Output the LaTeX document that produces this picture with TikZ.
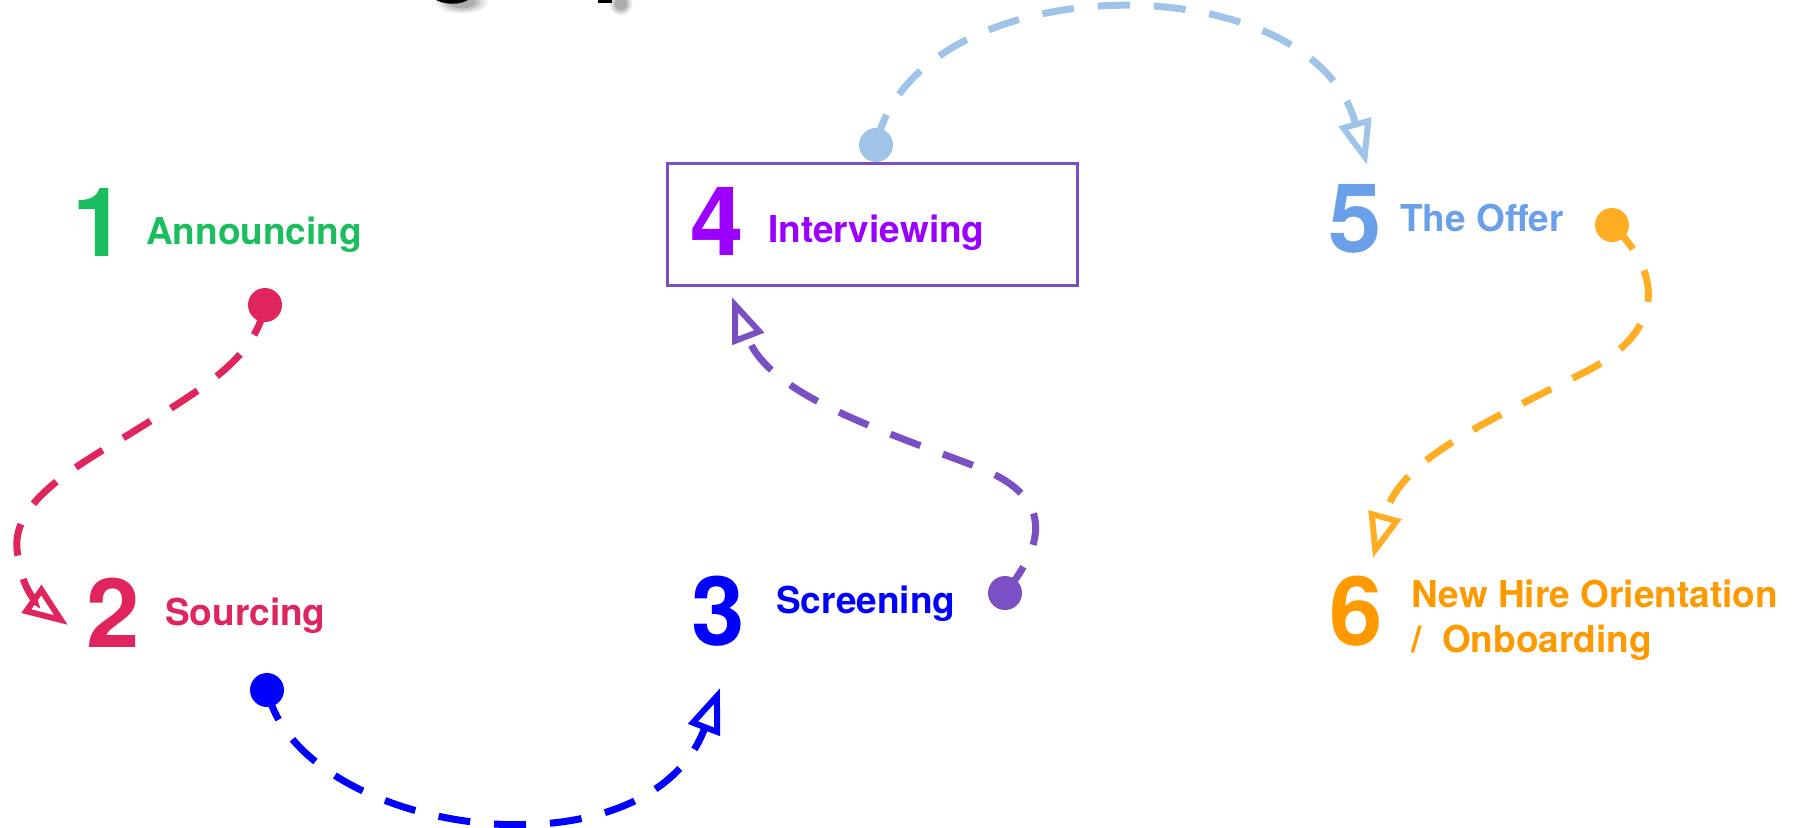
\documentclass[tikz,border=0pt]{standalone}
\usepackage{fontspec}
\setmainfont{TeX Gyre Heros}
\usetikzlibrary{arrows.meta}
\definecolor{cgreen}{RGB}{27,190,95}
\definecolor{cpink}{RGB}{224,36,94}
\definecolor{cblue}{RGB}{0,0,255}
\definecolor{cviolet}{RGB}{155,0,255}
\definecolor{cpurple}{RGB}{123,79,196}
\definecolor{clight}{RGB}{160,196,232}
\definecolor{coffer}{RGB}{106,159,234}
\definecolor{corange}{RGB}{255,173,34}
\definecolor{corangetxt}{RGB}{255,153,0}
\tikzset{
  num/.style={anchor=base west, inner sep=0pt, font=\fontsize{96}{96}\selectfont\bfseries},
  lab/.style={anchor=base west, inner sep=0pt, font=\fontsize{37}{45}\selectfont\bfseries},
  dot/.style={circle, fill, inner sep=0pt, minimum size=34pt},
  conn/.style={line width=7pt, dash pattern=on 32pt off 24pt,
    -{Triangle[open, length=45pt, width=33pt, line width=6pt]}},
}
\begin{document}
\begin{tikzpicture}[x=1pt,y=-1pt]
\useasboundingbox (0,0) rectangle (1803,827);
% cut-off title fragments with shadow
\begin{scope}
\clip (0,0) rectangle (1803,827);
\foreach \r/\o in {26/0.06,22/0.08,18/0.1,14/0.12}{
  \fill[black,opacity=\o] (462,2) ellipse ({\r pt} and {0.45*\r pt});
  \fill[black,opacity=\o] (621,4) ellipse ({0.45*\r pt} and {0.45*\r pt});
}
\fill[black] (436,0) .. controls (445,5) and (460,5) .. (468,0) -- cycle;
\fill[black] (598,0) rectangle (612,3);
\end{scope}

% steps
\node[num, text=cgreen] (n1) at (72,256) {1};
\node[lab, text=cgreen] (l1) at (146,244) {Announcing};
\node[num, text=cpink] (n2) at (86,647) {2};
\node[lab, text=cpink] (l2) at (165,625) {Sourcing};
\node[num, text=cblue] (n3) at (691,645) {3};
\node[lab, text=cblue] (l3) at (776,613) {Screening};
\node[draw=cpurple, line width=3pt, minimum width=410pt, minimum height=122pt, inner sep=0pt] (box) at (872.5,224.5) {};
\node[num, text=cviolet] (n4) at (690,255) {4};
\node[lab, text=cviolet] (l4) at (768,242) {Interviewing};
\node[num, text=coffer] (n5) at (1328,252) {5};
\node[lab, text=coffer] (l5) at (1400,231) {The Offer};
\node[num, text=corangetxt] (n6) at (1329,645) {6};
\node[lab, text=corangetxt] (l6a) at (1411,607) {New Hire Orientation};
\node[lab, text=corangetxt] (l6b) at (1411,652) {/\ \ Onboarding};

% dots and arrow ends
\node[dot, fill=cpink] (d1) at (265,305) {};
\coordinate (t1) at (68,625);
\node[dot, fill=cblue] (d2) at (267,690) {};
\coordinate (t2) at (720,688);
\node[dot, fill=cpurple] (d3) at (1005,593) {};
\coordinate (t3) at (732,297);
\node[dot, fill=clight] (d4) at (876,145) {};
\coordinate (t4) at (1367,165);
\node[dot, fill=corange] (d5) at (1612,225) {};
\coordinate (t5) at (1373,558);

% connectors
\draw[conn, cpink] (d1.center) .. controls (255,360) and (200,390) .. (128,435)
   .. controls (60,475) and (5,510) .. (19,560)
   .. controls (22,590) and (40,605) .. (t1);
\draw[conn, cblue] (d2.center) .. controls (300,835) and (645,885) .. (t2);
\draw[conn, cpurple] (d3.center) .. controls (1040,550) and (1060,500) .. (980,468)
   .. controls (880,430) and (770,395) .. (t3);
\draw[conn, clight] (d4.center) .. controls (915,-35) and (1310,-40) .. (t4);
\draw[conn, corange] (d5.center) .. controls (1660,270) and (1670,330) .. (1583,373)
   .. controls (1480,425) and (1400,460) .. (t5);
\end{tikzpicture}
\end{document}
